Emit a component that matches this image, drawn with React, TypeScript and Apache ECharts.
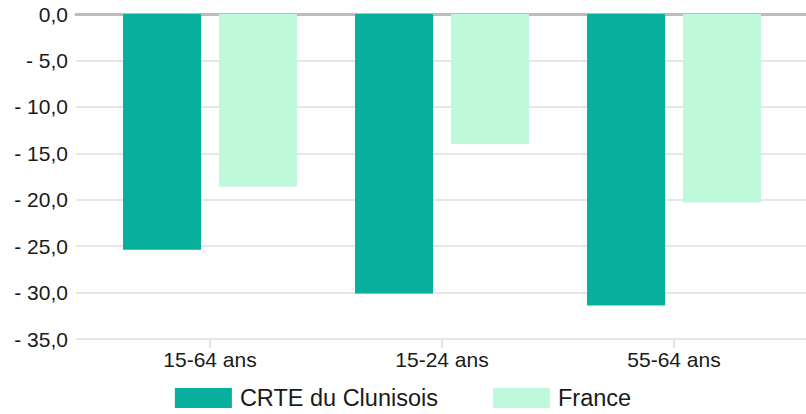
import React, { useEffect, useRef } from "react";
import * as echarts from "echarts";

const categories = ["15-64 ans", "15-24 ans", "55-64 ans"];
const seriesNames = ["CRTE du Clunisois", "France"];
const crteValues = [-25.4, -30.1, -31.4];
const franceValues = [-18.6, -14.0, -20.3];
const yMin = -35;
const yMax = 0;
const yInterval = 5;

const FONT = "'Liberation Sans', Arial, Helvetica, sans-serif";

function fmt(v: number): string {
  if (v === 0) return "0,0";
  const s = Math.abs(v).toFixed(1).replace(".", ",");
  return (v < 0 ? "- " : "") + s;
}

export default function App() {
  const ref = useRef<HTMLDivElement>(null);
  useEffect(() => {
    document.body.style.margin = "0";
    if (!ref.current) return;
    const chart = echarts.init(ref.current, null, { renderer: "svg" });
    chart.setOption({
      animation: false,
      backgroundColor: "#ffffff",
      textStyle: { fontFamily: FONT },
      grid: [
        { left: 76, right: 0, top: 14, height: 325 },
        { left: 94, right: 16, top: 14, height: 325 },
      ],
      legend: {
        data: seriesNames,
        left: "center",
        top: 384,
        padding: 0,
        itemWidth: 57,
        itemHeight: 20,
        itemGap: 55,
        icon: "rect",
        textStyle: { fontFamily: FONT, fontSize: 23.5, lineHeight: 28, color: "#1a1a1a", padding: [0, 0, 0, 3] },
      },
      xAxis: [
        {
          type: "category",
          gridIndex: 0,
          data: [""],
          axisLabel: { show: false },
          axisTick: { show: false },
          splitLine: { show: false },
          axisLine: { show: true, onZero: true, lineStyle: { color: "#bcbcbc", width: 3 } },
        },
        {
          type: "category",
          gridIndex: 1,
          data: categories,
          position: "bottom",
          axisLine: { show: false, onZero: false },
          axisTick: { show: true, alignWithLabel: true, length: 9, lineStyle: { color: "#e3e3e3", width: 2 } },
          axisLabel: { fontFamily: FONT, fontSize: 21, color: "#1a1a1a", margin: 10 },
          splitLine: { show: false },
        },
      ],
      yAxis: [
        {
          type: "value",
          gridIndex: 0,
          min: yMin,
          max: yMax,
          interval: yInterval,
          axisLine: { show: false },
          axisTick: { show: false },
          axisLabel: { fontFamily: FONT, fontSize: 21, color: "#1a1a1a", margin: 8, formatter: fmt },
          splitLine: { show: true, lineStyle: { color: "#e6e6e6", width: 2 } },
        },
        {
          type: "value",
          gridIndex: 1,
          min: yMin,
          max: yMax,
          interval: yInterval,
          axisLine: { show: false },
          axisTick: { show: false },
          axisLabel: { show: false },
          splitLine: { show: false },
        },
      ],
      series: [
        {
          name: seriesNames[0],
          type: "bar",
          xAxisIndex: 1,
          yAxisIndex: 1,
          data: crteValues,
          barWidth: 78,
          barGap: "23%",
          itemStyle: { color: "#06b09d" },
        },
        {
          name: seriesNames[1],
          type: "bar",
          xAxisIndex: 1,
          yAxisIndex: 1,
          data: franceValues,
          barWidth: 78,
          barGap: "23%",
          itemStyle: { color: "#bff9dc" },
        },
      ],
    });
    return () => chart.dispose();
  }, []);
  return <div ref={ref} style={{ width: 806, height: 414 }} />;
}
